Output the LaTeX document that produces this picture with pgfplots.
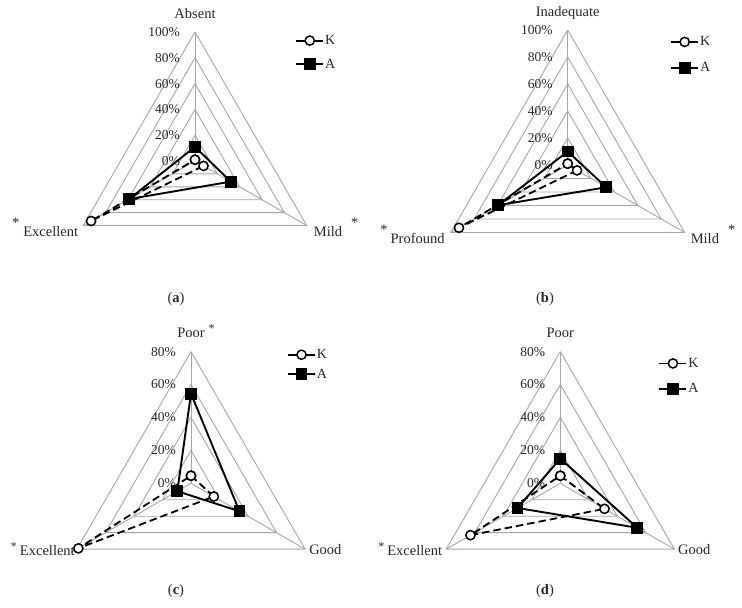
\documentclass[border=0pt]{standalone}
\usepackage{pgfplots}
\pgfplotsset{compat=1.18}
\usepgfplotslibrary{polar}
\usepackage{fontspec}
\setmainfont{Liberation Serif}
\definecolor{gridgray}{RGB}{166,166,166}
\definecolor{txt}{RGB}{38,38,38}
\newcommand{\catfont}{\fontsize{14.5}{16}\selectfont}
\newcommand{\tickfont}{\fontsize{13.5}{15}\selectfont}
\pgfplotsset{
  radar/.style={
    hide axis, clip=false, scale only axis,
    xmin=0, xmax=360, ymin=0,
    anchor=center,
    legend style={draw=none, fill=none, anchor=north west, font=\fontsize{14}{15}\selectfont,
      inner sep=0pt, nodes={inner sep=1pt, text=txt}},
    legend cell align=left,
    legend image code/.code={\draw[mark repeat=2,mark phase=2,##1] plot coordinates {(0pt,0pt) (13.5pt,0pt) (27pt,0pt)};},
    legend image post style={solid},
  },
  gridline/.style={gridgray, line width=0.9pt, forget plot, mark=none, solid},
  kser/.style={black, line width=1.8pt, dash pattern=on 7.5pt off 4pt, mark=*, mark size=4.6pt, mark options={solid, fill=white, line width=1.5pt}},
  aser/.style={black, line width=1.9pt, solid, mark=square*, mark size=5pt, mark options={solid}},
}
\tikzset{
  ticklab/.style={anchor=east, inner sep=0pt, xshift=-15pt, font=\tickfont, text=txt},
}
\begin{document}
\begin{tikzpicture}
\path[use as bounding box] (0pt,0pt) rectangle (742pt,-608pt);

% ---------------- (a)
\begin{polaraxis}[radar, at={(195pt,-161pt)}, width=258pt, height=258pt, ymax=100,
  legend style={at={(0.888,0.992)}, row sep=11pt}]
\addplot[gridline] coordinates {(90,20) (330,20) (210,20) (90,20)};
\addplot[gridline] coordinates {(90,40) (330,40) (210,40) (90,40)};
\addplot[gridline] coordinates {(90,60) (330,60) (210,60) (90,60)};
\addplot[gridline] coordinates {(90,80) (330,80) (210,80) (90,80)};
\addplot[gridline] coordinates {(90,100) (330,100) (210,100) (90,100)};
\addplot[gridline] coordinates {(90,0) (90,100)};
\addplot[gridline] coordinates {(330,0) (330,100)};
\addplot[gridline] coordinates {(210,0) (210,100)};
\addplot[kser] coordinates {(90,1) (330,7.6) (210,93) (90,1)};
\addlegendentry{K}
\addplot[aser] coordinates {(90,11) (330,32) (210,59) (90,11)};
\addlegendentry{A}
\node[ticklab] at (axis cs:90,0) {0\%};
\node[ticklab] at (axis cs:90,20) {20\%};
\node[ticklab] at (axis cs:90,40) {40\%};
\node[ticklab] at (axis cs:90,60) {60\%};
\node[ticklab] at (axis cs:90,80) {80\%};
\node[ticklab] at (axis cs:90,100) {100\%};
\node[anchor=base, yshift=14pt, font=\catfont, text=txt] at (axis cs:90,100) {Absent};
\node[anchor=east, xshift=-5pt, yshift=-2pt, inner sep=0pt, font=\catfont, text=txt] at (axis cs:210,100) {\raisebox{9pt}{*}\hspace{4pt}Excellent};
\node[anchor=west, xshift=7pt, yshift=-2pt, inner sep=0pt, font=\catfont, text=txt] at (axis cs:330,100) {Mild\hspace{9pt}\raisebox{9pt}{*}};
\end{polaraxis}

% ---------------- (b)
\begin{polaraxis}[radar, at={(567.7pt,-165pt)}, width=270pt, height=270pt, ymax=100,
  legend style={at={(0.879,0.980)}, row sep=13pt}]
\addplot[gridline] coordinates {(90,20) (330,20) (210,20) (90,20)};
\addplot[gridline] coordinates {(90,40) (330,40) (210,40) (90,40)};
\addplot[gridline] coordinates {(90,60) (330,60) (210,60) (90,60)};
\addplot[gridline] coordinates {(90,80) (330,80) (210,80) (90,80)};
\addplot[gridline] coordinates {(90,100) (330,100) (210,100) (90,100)};
\addplot[gridline] coordinates {(90,0) (90,100)};
\addplot[gridline] coordinates {(330,0) (330,100)};
\addplot[gridline] coordinates {(210,0) (210,100)};
\addplot[kser] coordinates {(90,1) (330,8) (210,93) (90,1)};
\addlegendentry{K}
\addplot[aser] coordinates {(90,10) (330,33) (210,59.5) (90,10)};
\addlegendentry{A}
\node[ticklab] at (axis cs:90,0) {0\%};
\node[ticklab] at (axis cs:90,20) {20\%};
\node[ticklab] at (axis cs:90,40) {40\%};
\node[ticklab] at (axis cs:90,60) {60\%};
\node[ticklab] at (axis cs:90,80) {80\%};
\node[ticklab] at (axis cs:90,100) {100\%};
\node[anchor=base, yshift=14pt, font=\catfont, text=txt] at (axis cs:90,100) {Inadequate};
\node[anchor=east, xshift=-6pt, yshift=-2pt, inner sep=0pt, font=\catfont, text=txt] at (axis cs:210,100) {\raisebox{9pt}{*}\hspace{3pt}Profound};
\node[anchor=west, xshift=6pt, yshift=-2pt, inner sep=0pt, font=\catfont, text=txt] at (axis cs:330,100) {Mild\hspace{9pt}\raisebox{9pt}{*}};
\end{polaraxis}

% ---------------- (c)
\begin{polaraxis}[radar, at={(191pt,-483.3pt)}, width=263.4pt, height=263.4pt, ymax=80,
  legend style={at={(0.864,1.013)}, row sep=7pt}]
\addplot[gridline] coordinates {(90,20) (330,20) (210,20) (90,20)};
\addplot[gridline] coordinates {(90,40) (330,40) (210,40) (90,40)};
\addplot[gridline] coordinates {(90,60) (330,60) (210,60) (90,60)};
\addplot[gridline] coordinates {(90,80) (330,80) (210,80) (90,80)};
\addplot[gridline] coordinates {(90,0) (90,80)};
\addplot[gridline] coordinates {(330,0) (330,80)};
\addplot[gridline] coordinates {(210,0) (210,80)};
\addplot[kser] coordinates {(90,4.6) (330,16) (210,79) (90,4.6)};
\addlegendentry{K}
\addplot[aser] coordinates {(90,54.5) (330,34) (210,9.6) (90,54.5)};
\addlegendentry{A}
\node[ticklab] at (axis cs:90,0) {0\%};
\node[ticklab] at (axis cs:90,20) {20\%};
\node[ticklab] at (axis cs:90,40) {40\%};
\node[ticklab] at (axis cs:90,60) {60\%};
\node[ticklab] at (axis cs:90,80) {80\%};
\node[anchor=base, yshift=14pt, font=\catfont, text=txt] at (axis cs:90,80) {Poor\rlap{\hspace{4pt}\raisebox{5pt}{\large *}}};
\node[anchor=east, xshift=-2pt, inner sep=0pt, font=\catfont, text=txt] at (axis cs:210,80) {\raisebox{5pt}{\large *}\hspace{3pt}Excellent};
\node[anchor=west, xshift=4pt, inner sep=0pt, font=\catfont, text=txt] at (axis cs:330,80) {Good};
\end{polaraxis}

% ---------------- (d)
\begin{polaraxis}[radar, at={(560.3pt,-483.3pt)}, width=263.4pt, height=263.4pt, ymax=80,
  legend style={at={(0.872,0.980)}, row sep=13pt}]
\addplot[gridline] coordinates {(90,20) (330,20) (210,20) (90,20)};
\addplot[gridline] coordinates {(90,40) (330,40) (210,40) (90,40)};
\addplot[gridline] coordinates {(90,60) (330,60) (210,60) (90,60)};
\addplot[gridline] coordinates {(90,80) (330,80) (210,80) (90,80)};
\addplot[gridline] coordinates {(90,0) (90,80)};
\addplot[gridline] coordinates {(330,0) (330,80)};
\addplot[gridline] coordinates {(210,0) (210,80)};
\addplot[kser] coordinates {(90,4.6) (330,31) (210,63) (90,4.6)};
\addlegendentry{K}
\addplot[aser] coordinates {(90,15) (330,54) (210,30) (90,15)};
\addlegendentry{A}
\node[ticklab] at (axis cs:90,0) {0\%};
\node[ticklab] at (axis cs:90,20) {20\%};
\node[ticklab] at (axis cs:90,40) {40\%};
\node[ticklab] at (axis cs:90,60) {60\%};
\node[ticklab] at (axis cs:90,80) {80\%};
\node[anchor=base, yshift=14pt, font=\catfont, text=txt] at (axis cs:90,80) {Poor};
\node[anchor=east, xshift=-4pt, inner sep=0pt, font=\catfont, text=txt] at (axis cs:210,80) {\raisebox{5pt}{\large *}\hspace{3pt}Excellent};
\node[anchor=west, xshift=3.5pt, inner sep=0pt, font=\catfont, text=txt] at (axis cs:330,80) {Good};
\end{polaraxis}

% sub-captions
\node[font=\catfont, text=txt] at (176pt,-299pt) {(\textbf{a})};
\node[font=\catfont, text=txt] at (545pt,-299pt) {(\textbf{b})};
\node[font=\catfont, text=txt] at (176pt,-591pt) {(\textbf{c})};
\node[font=\catfont, text=txt] at (545pt,-591pt) {(\textbf{d})};
\end{tikzpicture}
\end{document}
